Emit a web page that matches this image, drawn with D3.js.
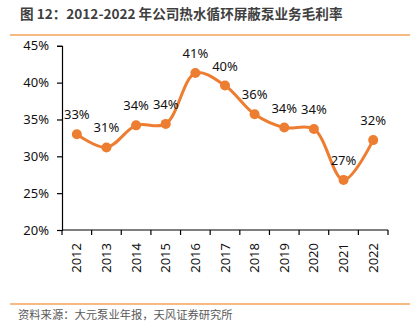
<!DOCTYPE html>
<html><head><meta charset="utf-8">
<script src="https://cdn.jsdelivr.net/npm/d3@7"></script>
<style>
html,body{margin:0;padding:0;background:#fff;}
svg{display:block;}
</style></head>
<body>
<script>
const years = ["2012","2013","2014","2015","2016","2017","2018","2019","2020","2021","2022"];
const margin = [33.0, 31.2, 34.2, 34.4, 41.3, 39.6, 35.7, 33.9, 33.7, 26.8, 32.2];
const labels = ["33%","31%","34%","34%","41%","40%","36%","34%","34%","27%","32%"];
const yTicks = [20, 25, 30, 35, 40, 45];
const title = "图 12：2012-2022 年公司热水循环屏蔽泵业务毛利率";
const source = "资料来源：大元泵业年报，天风证券研究所";

const W = 418, H = 331;
const svg = d3.select("body").append("svg").attr("width", W).attr("height", H);
const font = "'Noto Sans', 'Open Sans', sans-serif";
const cjk = "'Noto Sans CJK SC', sans-serif";

svg.append("text").attr("x", 20).attr("y", 19)
  .attr("font-family", cjk).attr("font-size", 13.6).attr("font-weight", "bold")
  .attr("fill", "#3f3f3f").text(title);
svg.append("line").attr("x1", 10).attr("x2", 410).attr("y1", 35).attr("y2", 35)
  .attr("stroke", "#f3a55c").attr("stroke-width", 1.5);
svg.append("line").attr("x1", 10).attr("x2", 410).attr("y1", 304).attr("y2", 304)
  .attr("stroke", "#f3a55c").attr("stroke-width", 1.5);
svg.append("text").attr("x", 18).attr("y", 319)
  .attr("font-family", cjk).attr("font-size", 11.3)
  .attr("fill", "#595959").text(source);

const x = d3.scaleBand().domain(years).range([62, 388]);
const y = d3.scaleLinear().domain([20, 45]).range([230, 45.8]);

// y axis
const ya = svg.append("g").attr("transform", "translate(62,0)")
  .call(d3.axisLeft(y).tickValues(yTicks).tickFormat(d => d + "%").tickSize(5).tickPadding(8));
ya.select(".domain").attr("stroke", "#000").attr("stroke-width", 1.2);
ya.selectAll(".tick line").attr("stroke", "#000").attr("stroke-width", 1.2);
ya.selectAll("text").attr("font-family", font).attr("font-size", 13).attr("fill", "#111");

// x axis
const xa = svg.append("g").attr("transform", "translate(0,230)");
xa.append("line").attr("x1", 62).attr("x2", 388).attr("y1", 0).attr("y2", 0)
  .attr("stroke", "#000").attr("stroke-width", 1.2);
const bounds = years.map(d => x(d)).concat([x.range()[1]]);
xa.selectAll("line.tk").data(bounds).join("line").attr("class", "tk")
  .attr("x1", d => d).attr("x2", d => d).attr("y1", 0).attr("y2", 5)
  .attr("stroke", "#000").attr("stroke-width", 1.2);
xa.selectAll("text").data(years).join("text")
  .attr("transform", d => `translate(${x(d) + x.bandwidth()/2 + 4.5},13) rotate(-90)`)
  .attr("text-anchor", "end")
  .attr("font-family", font).attr("font-size", 13).attr("fill", "#111")
  .text(d => d);

// line
const cx = (d, i) => x(years[i]) + x.bandwidth()/2;
const line = d3.line().x((d, i) => cx(d, i)).y(d => y(d)).curve(d3.curveCatmullRom.alpha(0.5));
svg.append("path").datum(margin).attr("d", line)
  .attr("fill", "none").attr("stroke", "#ed7d31").attr("stroke-width", 3);
svg.selectAll("circle.pt").data(margin).join("circle").attr("class", "pt")
  .attr("cx", (d, i) => cx(d, i)).attr("cy", d => y(d)).attr("r", 5)
  .attr("fill", "#ed7d31");
svg.selectAll("text.lbl").data(margin).join("text").attr("class", "lbl")
  .attr("x", (d, i) => cx(d, i)).attr("y", d => y(d) - 15)
  .attr("text-anchor", "middle")
  .attr("font-family", font).attr("font-size", 13).attr("fill", "#111")
  .text((d, i) => labels[i]);
</script>
</body></html>
